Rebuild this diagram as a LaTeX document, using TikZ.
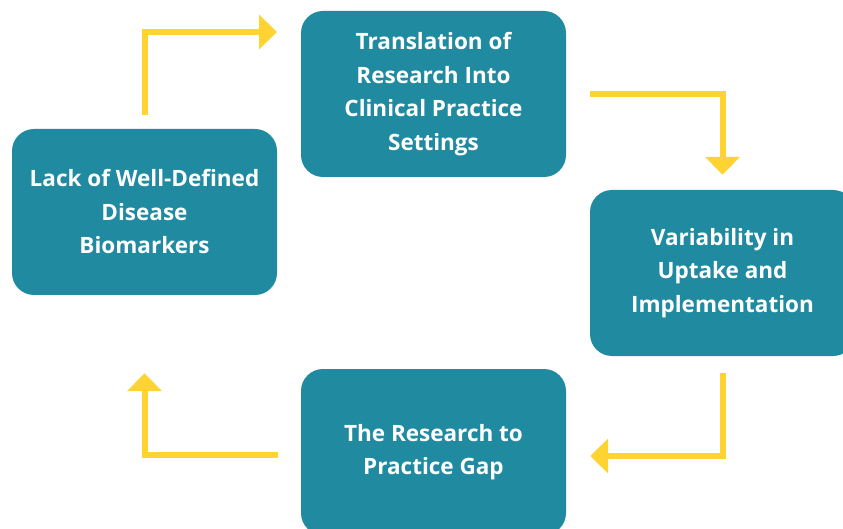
\documentclass[tikz,border=0pt]{standalone}
\usepackage{fontspec}
\setmainfont{Open Sans}[Ligatures=NoCommon]
\usetikzlibrary{calc, arrows.meta}
\definecolor{boxteal}{HTML}{1F8AA0}
\definecolor{flowyellow}{HTML}{FFD332}

\begin{document}
\begin{tikzpicture}[x=1pt,y=-1pt,
every node/.style={rectangle,rounded corners=22pt,fill=boxteal,text=white,align=center,
  minimum width=265pt,minimum height=166pt,inner sep=0pt,
  font=\fontsize{22.5}{33.5}\selectfont\bfseries},
flow/.style={draw=flowyellow,line width=6pt,-{Triangle[length=18pt 0,width=34pt 0]}},
]
\useasboundingbox (0,0) rectangle (843,529);
\node (nA) at (144.5,212) {Lack of Well-Defined\\Disease\\Biomarkers};
\node (nB) at (433.5,94) {Translation of\\Research Into\\Clinical Practice\\Settings};
\node (nC) at (722.5,273) {Variability in\\Uptake and\\Implementation};
\node (nD) at (433.5,452) {The Research to\\Practice Gap};
\coordinate (tipA) at (277,32);
%arrows round the cycle
\draw[flow] ([yshift=14pt]nA.north) |- (tipA);
\draw[flow] ([xshift=24pt]nB.east) -| ([yshift=15pt]nC.north);
\draw[flow] ([yshift=-17pt]nC.south) |- ([xshift=24pt,yshift=-4pt]nD.east);
\draw[flow] ([xshift=-23pt,yshift=-3pt]nD.west) -| ([yshift=-78pt]nA.south);
\end{tikzpicture}
\end{document}
